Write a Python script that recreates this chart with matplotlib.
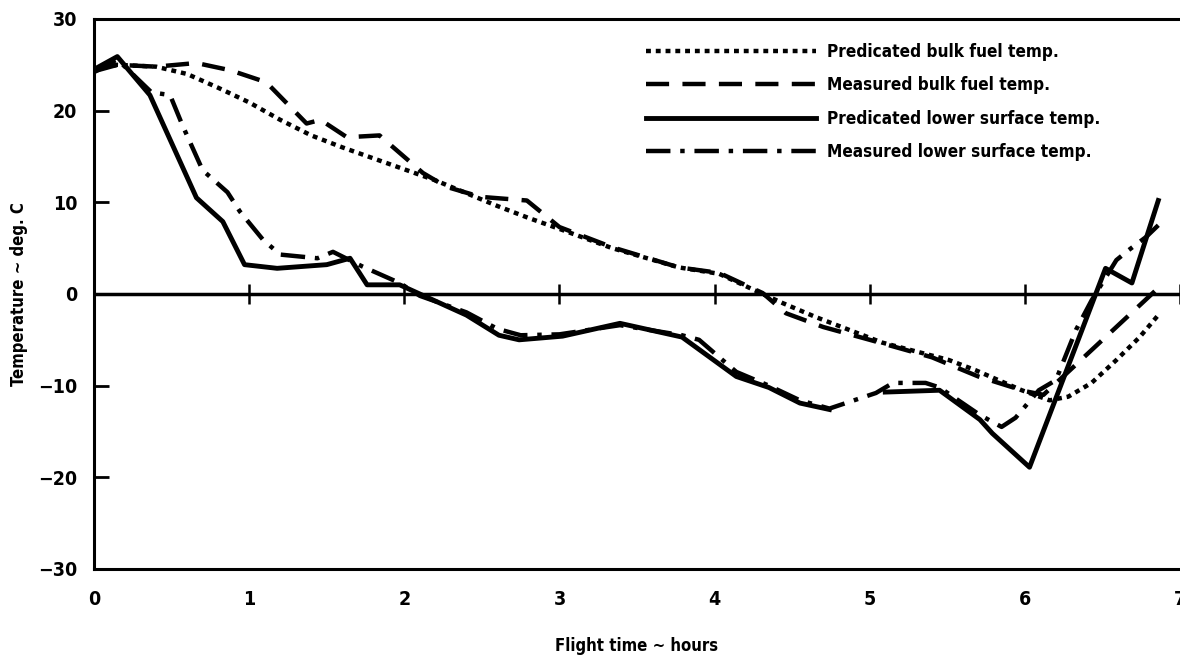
import numpy as np
import matplotlib
matplotlib.use('Agg')
import matplotlib.pyplot as plt

plt.rcParams['font.family'] = ['DejaVu Sans']
plt.rcParams['font.stretch'] = 'condensed'
plt.rcParams['font.weight'] = 'bold'
plt.rcParams['axes.labelweight'] = 'bold'

# 数据
# 预测燃油温度 (点线)
x_pred_fuel = [0.0, 0.15, 0.4, 0.6, 0.8, 1.0, 1.2, 1.4, 1.6, 1.8, 2.0, 2.2, 2.4, 2.6, 2.8,
               3.0, 3.34, 3.77, 4.03, 4.31, 4.44, 4.65, 5.08, 5.51, 5.68, 5.98, 6.16, 6.28,
               6.43, 6.59, 6.74, 6.86]
y_pred_fuel = [24.5, 25.0, 24.8, 24.0, 22.5, 20.9, 19.0, 17.3, 16.0, 14.8, 13.6, 12.4, 11.0, 9.6, 8.3,
               7.1, 5.0, 2.9, 2.2, 0.0, -1.0, -2.5, -5.3, -7.2, -8.3, -10.5, -11.6, -11.2,
               -9.7, -7.2, -4.7, -2.3]

# 实测燃油温度 (虚线)
x_meas_fuel = [0.0, 0.15, 0.4, 0.66, 0.88, 1.11, 1.37, 1.46, 1.63, 1.84, 2.12, 2.27, 2.49, 2.79,
               3.0, 3.34, 3.77, 4.03, 4.31, 4.46, 4.7, 5.0, 5.4, 5.7, 6.0, 6.12, 6.85]
y_meas_fuel = [24.3, 25.0, 24.8, 25.2, 24.4, 23.1, 18.6, 19.0, 17.1, 17.3, 13.2, 11.7, 10.6, 10.2,
               7.3, 5.1, 2.9, 2.3, 0.1, -2.1, -3.6, -5.0, -6.9, -9.0, -10.6, -11.0, 0.5]

# 预测下表面温度 (实线)
x_pred_surf = [0.0, 0.15, 0.36, 0.66, 0.83, 0.97, 1.18, 1.5, 1.65, 1.76, 1.97, 2.1, 2.4, 2.61,
               2.74, 3.02, 3.39, 3.55, 3.79, 4.14, 4.35, 4.55, 4.74, np.nan, 5.1, 5.45, 5.71,
               5.79, 6.03, 6.52, 6.69, 6.86]
y_pred_surf = [24.5, 25.9, 21.7, 10.5, 7.9, 3.2, 2.8, 3.2, 3.9, 1.0, 1.0, 0.0, -2.3, -4.5,
               -5.0, -4.6, -3.2, -3.8, -4.7, -9.0, -10.2, -11.9, -12.6, np.nan, -10.7, -10.5, -13.7,
               -15.2, -18.9, 2.8, 1.2, 10.2]

# 实测下表面温度 (点划线)
x_meas_surf = [0.0, 0.15, 0.37, 0.49, 0.57, 0.70, 0.86, 0.94, 1.09, 1.2, 1.44, 1.54, 1.73, 1.97,
               2.1, 2.4, 2.6, 2.75, 3.0, 3.39, 3.79, 3.9, 4.14, 4.35, 4.55, 4.74, 5.04, 5.15,
               5.36, 5.45, 5.71, 5.85, 5.94, 6.09, 6.2, 6.33, 6.43, 6.59, 6.67, 6.78, 6.86]
y_meas_surf = [24.2, 25.6, 22.0, 21.7, 18.4, 13.5, 11.1, 9.0, 5.9, 4.3, 3.9, 4.6, 3.0, 1.2,
               -0.2, -2.0, -3.8, -4.5, -4.4, -3.4, -4.5, -5.0, -8.5, -10.0, -11.6, -12.5, -10.8, -9.7,
               -9.7, -10.2, -13.2, -14.5, -13.5, -10.5, -9.4, -3.9, -0.7, 3.7, 4.8, 6.2, 7.5]

labels = ['Predicated bulk fuel temp.', 'Measured bulk fuel temp.',
          'Predicated lower surface temp.', 'Measured lower surface temp.']

x_ticks = [0, 1, 2, 3, 4, 5, 6, 7]
y_ticks = [30, 20, 10, 0, -10, -20, -30]
y_tick_labels = ['30', '20', '10', '0', '\u221210', '\u221220', '\u221230']

# 绘图
fig = plt.figure(figsize=(11.8, 6.62), dpi=100)
ax = fig.add_axes([0.0797, 0.1405, 0.9203, 0.8308])

ax.plot(x_pred_fuel, y_pred_fuel, color='black', lw=3.2, linestyle=(0, (1.1, 1.1)),
        label=labels[0])
ax.plot(x_meas_fuel, y_meas_fuel, color='black', lw=3.2, linestyle=(0, (5.2, 3.0)),
        label=labels[1])
ax.plot(x_pred_surf, y_pred_surf, color='black', lw=3.5, linestyle='-',
        label=labels[2])
ax.plot(x_meas_surf, y_meas_surf, color='black', lw=3.2, linestyle=(0, (5.5, 2.2, 1.0, 2.2)),
        label=labels[3])

# 零线和刻度
ax.axhline(0, color='black', lw=2.5, zorder=1)
ax.plot(x_ticks[1:], np.zeros(len(x_ticks) - 1), linestyle='none', marker='|',
        ms=14, mew=1.8, color='black', zorder=1)

ax.set_xlim(0, 7)
ax.set_ylim(-30, 30)
ax.set_xticks(x_ticks)
ax.set_xticklabels([str(v) for v in x_ticks])
ax.set_yticks(y_ticks)
ax.set_yticklabels(y_tick_labels)
ax.tick_params(axis='x', length=0, pad=15, labelsize=14)
ax.tick_params(axis='y', direction='in', length=11, width=2, pad=12, labelsize=14)

for s in ['left', 'top', 'bottom']:
    ax.spines[s].set_linewidth(2.2)
ax.spines['right'].set_visible(False)

ax.set_xlabel('Flight time \u223c hours', fontsize=12)
ax.set_ylabel('Temperature \u223c deg. C', fontsize=12)
ax.xaxis.set_label_coords(0.5, -0.123)
ax.yaxis.set_label_coords(-0.061, 0.5)

ax.legend(loc='upper left', bbox_to_anchor=(0.5, 0.972), frameon=False, fontsize=12.3,
          handlelength=10.0, handletextpad=0.6, labelspacing=0.9, borderpad=0)

plt.savefig('out.png', dpi=100)
